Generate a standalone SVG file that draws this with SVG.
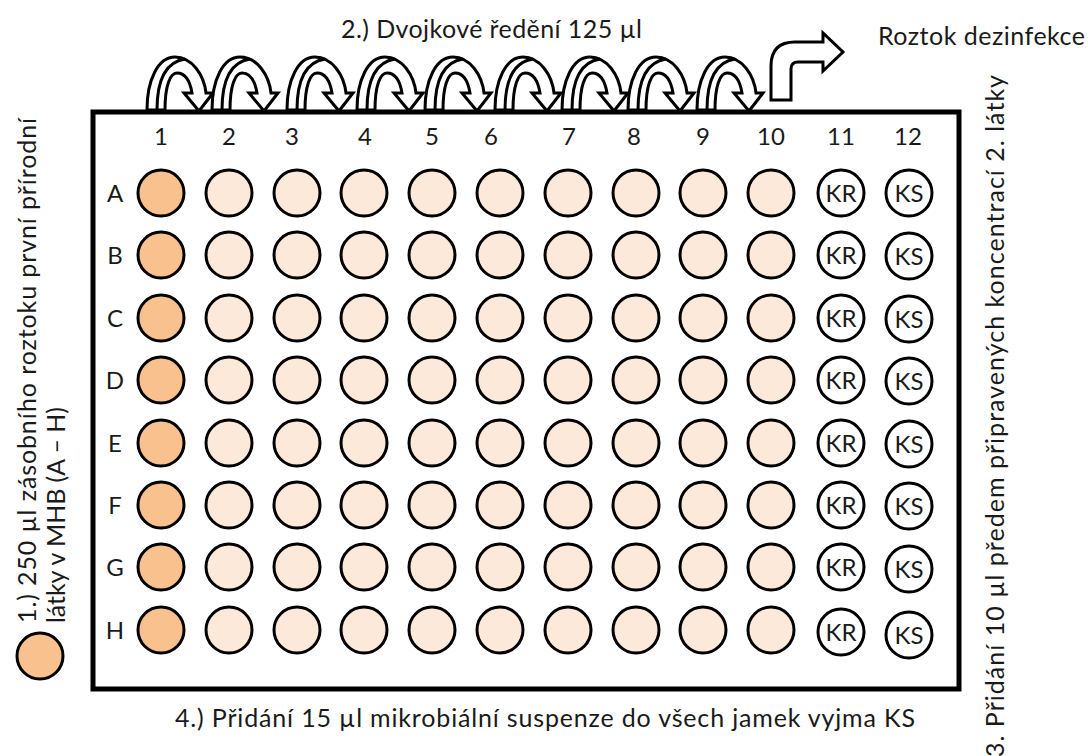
<svg xmlns="http://www.w3.org/2000/svg" xmlns:xlink="http://www.w3.org/1999/xlink" width="1088" height="756" viewBox="0 0 1088 756">
<style>
text{font-family:"Lato","Liberation Sans",sans-serif;fill:#1a1a1a}
.big{font-size:25px}
.lbl{font-size:24px;text-anchor:middle}
.kt{font-size:24px;text-anchor:middle}
.w1{fill:#F8C18E;stroke:#000;stroke-width:3}
.w{fill:#FDE9DA;stroke:#000;stroke-width:3}
.wk{fill:#fff;stroke:#000;stroke-width:3}
.arr{fill:#fff;stroke:#000;stroke-width:3;stroke-linejoin:miter}
.fold{fill:none;stroke:#000;stroke-width:3}
.plate{fill:#fff;stroke:#000;stroke-width:5}
</style>
<defs>
<g id="curved">
<path class="arr" d="M0,110 C0,80 11,57 28,57 C45,57 57,75 59,93 L66,93 L52,111 L37,93 L45,93 C43,81 38,73 30,73 C23,73 18,86 18,110 Z"/>
<path class="fold" d="M10,110 C10,82 18,62 38,59"/>
</g>
</defs>
<rect width="1088" height="756" fill="#fff"/>
<g id="plate"><rect class="plate" x="93" y="112" width="866" height="577"/></g>
<g id="connectors">
<use xlink:href="#curved" x="147" y="0"/>
<use xlink:href="#curved" x="212" y="0"/>
<use xlink:href="#curved" x="287" y="0"/>
<use xlink:href="#curved" x="357" y="0"/>
<use xlink:href="#curved" x="425" y="0"/>
<use xlink:href="#curved" x="495" y="0"/>
<use xlink:href="#curved" x="562" y="0"/>
<use xlink:href="#curved" x="628" y="0"/>
<use xlink:href="#curved" x="697" y="0"/>
<path class="arr" d="M771,100 L771,66 Q771,42 795,42 L823,42 L823,33 L843,52 L823,71 L823,62 L798,62 Q791,62 791,69 L791,100 Z"/>
</g>
<g id="titles">
<text class="big" x="341" y="38" textLength="301">2.) Dvojkové ředění 125 µl</text>
<text class="big" x="878" y="45" textLength="207">Roztok dezinfekce</text>
<text class="big" x="175" y="727" textLength="740">4.) Přidání 15 µl mikrobiální suspenze do všech jamek vyjma KS</text>
<text class="big" transform="translate(1004,757) rotate(-90)" textLength="682">3. Přidání 10 µl předem připravených koncentrací 2. látky</text>
</g>
<g id="legend">
<circle class="w1" cx="40" cy="656" r="23"/>
<text class="big" transform="translate(36,623) rotate(-90)" textLength="505">1.) 250 µl zásobního roztoku první přírodní</text>
<text class="big" transform="translate(65,623) rotate(-90)" textLength="216">látky v MHB (A – H)</text>
</g>
<g id="col-labels">
<text class="lbl" x="161" y="145">1</text>
<text class="lbl" x="229" y="145">2</text>
<text class="lbl" x="292" y="145">3</text>
<text class="lbl" x="365" y="145">4</text>
<text class="lbl" x="432" y="145">5</text>
<text class="lbl" x="491" y="145">6</text>
<text class="lbl" x="569" y="145">7</text>
<text class="lbl" x="634" y="145">8</text>
<text class="lbl" x="703" y="145">9</text>
<text class="lbl" x="771" y="145">10</text>
<text class="lbl" x="841" y="145">11</text>
<text class="lbl" x="908" y="145">12</text>
</g>
<g id="row-labels">
<text class="lbl" x="115" y="202">A</text>
<text class="lbl" x="115" y="264">B</text>
<text class="lbl" x="115" y="327">C</text>
<text class="lbl" x="115" y="389">D</text>
<text class="lbl" x="115" y="452">E</text>
<text class="lbl" x="115" y="514">F</text>
<text class="lbl" x="115" y="576">G</text>
<text class="lbl" x="115" y="639">H</text>
</g>
<g id="row-A">
<g id="A1"><circle class="w1" cx="161" cy="193" r="23"/></g>
<g id="A2"><circle class="w" cx="229" cy="193" r="23"/></g>
<g id="A3"><circle class="w" cx="297" cy="193" r="23"/></g>
<g id="A4"><circle class="w" cx="364" cy="193" r="23"/></g>
<g id="A5"><circle class="w" cx="432" cy="193" r="23"/></g>
<g id="A6"><circle class="w" cx="500" cy="193" r="23"/></g>
<g id="A7"><circle class="w" cx="568" cy="193" r="23"/></g>
<g id="A8"><circle class="w" cx="636" cy="193" r="23"/></g>
<g id="A9"><circle class="w" cx="703" cy="193" r="23"/></g>
<g id="A10"><circle class="w" cx="771" cy="193" r="23"/></g>
<g id="A11"><circle class="wk" cx="841" cy="193" r="23"/><text class="kt" x="841" y="202">KR</text></g>
<g id="A12"><circle class="wk" cx="909" cy="193" r="23"/><text class="kt" x="909" y="202">KS</text></g>
</g>
<g id="row-B">
<g id="B1"><circle class="w1" cx="161" cy="255" r="23"/></g>
<g id="B2"><circle class="w" cx="229" cy="255" r="23"/></g>
<g id="B3"><circle class="w" cx="297" cy="255" r="23"/></g>
<g id="B4"><circle class="w" cx="364" cy="255" r="23"/></g>
<g id="B5"><circle class="w" cx="432" cy="255" r="23"/></g>
<g id="B6"><circle class="w" cx="500" cy="255" r="23"/></g>
<g id="B7"><circle class="w" cx="568" cy="255" r="23"/></g>
<g id="B8"><circle class="w" cx="636" cy="255" r="23"/></g>
<g id="B9"><circle class="w" cx="703" cy="255" r="23"/></g>
<g id="B10"><circle class="w" cx="771" cy="255" r="23"/></g>
<g id="B11"><circle class="wk" cx="841" cy="255" r="23"/><text class="kt" x="841" y="264">KR</text></g>
<g id="B12"><circle class="wk" cx="909" cy="256" r="23"/><text class="kt" x="909" y="265">KS</text></g>
</g>
<g id="row-C">
<g id="C1"><circle class="w1" cx="161" cy="318" r="23"/></g>
<g id="C2"><circle class="w" cx="229" cy="318" r="23"/></g>
<g id="C3"><circle class="w" cx="297" cy="318" r="23"/></g>
<g id="C4"><circle class="w" cx="364" cy="318" r="23"/></g>
<g id="C5"><circle class="w" cx="432" cy="318" r="23"/></g>
<g id="C6"><circle class="w" cx="500" cy="318" r="23"/></g>
<g id="C7"><circle class="w" cx="568" cy="318" r="23"/></g>
<g id="C8"><circle class="w" cx="636" cy="318" r="23"/></g>
<g id="C9"><circle class="w" cx="703" cy="318" r="23"/></g>
<g id="C10"><circle class="w" cx="771" cy="318" r="23"/></g>
<g id="C11"><circle class="wk" cx="841" cy="318" r="23"/><text class="kt" x="841" y="327">KR</text></g>
<g id="C12"><circle class="wk" cx="909" cy="319" r="23"/><text class="kt" x="909" y="328">KS</text></g>
</g>
<g id="row-D">
<g id="D1"><circle class="w1" cx="161" cy="380" r="23"/></g>
<g id="D2"><circle class="w" cx="229" cy="380" r="23"/></g>
<g id="D3"><circle class="w" cx="297" cy="380" r="23"/></g>
<g id="D4"><circle class="w" cx="364" cy="380" r="23"/></g>
<g id="D5"><circle class="w" cx="432" cy="380" r="23"/></g>
<g id="D6"><circle class="w" cx="500" cy="380" r="23"/></g>
<g id="D7"><circle class="w" cx="568" cy="380" r="23"/></g>
<g id="D8"><circle class="w" cx="636" cy="380" r="23"/></g>
<g id="D9"><circle class="w" cx="703" cy="380" r="23"/></g>
<g id="D10"><circle class="w" cx="771" cy="380" r="23"/></g>
<g id="D11"><circle class="wk" cx="841" cy="380" r="23"/><text class="kt" x="841" y="389">KR</text></g>
<g id="D12"><circle class="wk" cx="909" cy="381" r="23"/><text class="kt" x="909" y="390">KS</text></g>
</g>
<g id="row-E">
<g id="E1"><circle class="w1" cx="161" cy="443" r="23"/></g>
<g id="E2"><circle class="w" cx="229" cy="443" r="23"/></g>
<g id="E3"><circle class="w" cx="297" cy="443" r="23"/></g>
<g id="E4"><circle class="w" cx="364" cy="443" r="23"/></g>
<g id="E5"><circle class="w" cx="432" cy="443" r="23"/></g>
<g id="E6"><circle class="w" cx="500" cy="443" r="23"/></g>
<g id="E7"><circle class="w" cx="568" cy="443" r="23"/></g>
<g id="E8"><circle class="w" cx="636" cy="443" r="23"/></g>
<g id="E9"><circle class="w" cx="703" cy="443" r="23"/></g>
<g id="E10"><circle class="w" cx="771" cy="443" r="23"/></g>
<g id="E11"><circle class="wk" cx="841" cy="443" r="23"/><text class="kt" x="841" y="452">KR</text></g>
<g id="E12"><circle class="wk" cx="909" cy="444" r="23"/><text class="kt" x="909" y="453">KS</text></g>
</g>
<g id="row-F">
<g id="F1"><circle class="w1" cx="161" cy="505" r="23"/></g>
<g id="F2"><circle class="w" cx="229" cy="505" r="23"/></g>
<g id="F3"><circle class="w" cx="297" cy="505" r="23"/></g>
<g id="F4"><circle class="w" cx="364" cy="505" r="23"/></g>
<g id="F5"><circle class="w" cx="432" cy="505" r="23"/></g>
<g id="F6"><circle class="w" cx="500" cy="505" r="23"/></g>
<g id="F7"><circle class="w" cx="568" cy="505" r="23"/></g>
<g id="F8"><circle class="w" cx="636" cy="505" r="23"/></g>
<g id="F9"><circle class="w" cx="703" cy="505" r="23"/></g>
<g id="F10"><circle class="w" cx="771" cy="505" r="23"/></g>
<g id="F11"><circle class="wk" cx="841" cy="505" r="23"/><text class="kt" x="841" y="514">KR</text></g>
<g id="F12"><circle class="wk" cx="909" cy="506" r="23"/><text class="kt" x="909" y="515">KS</text></g>
</g>
<g id="row-G">
<g id="G1"><circle class="w1" cx="161" cy="567" r="23"/></g>
<g id="G2"><circle class="w" cx="229" cy="567" r="23"/></g>
<g id="G3"><circle class="w" cx="297" cy="567" r="23"/></g>
<g id="G4"><circle class="w" cx="364" cy="567" r="23"/></g>
<g id="G5"><circle class="w" cx="432" cy="567" r="23"/></g>
<g id="G6"><circle class="w" cx="500" cy="567" r="23"/></g>
<g id="G7"><circle class="w" cx="568" cy="567" r="23"/></g>
<g id="G8"><circle class="w" cx="636" cy="567" r="23"/></g>
<g id="G9"><circle class="w" cx="703" cy="567" r="23"/></g>
<g id="G10"><circle class="w" cx="771" cy="567" r="23"/></g>
<g id="G11"><circle class="wk" cx="841" cy="567" r="23"/><text class="kt" x="841" y="576">KR</text></g>
<g id="G12"><circle class="wk" cx="909" cy="569" r="23"/><text class="kt" x="909" y="578">KS</text></g>
</g>
<g id="row-H">
<g id="H1"><circle class="w1" cx="161" cy="630" r="23"/></g>
<g id="H2"><circle class="w" cx="229" cy="630" r="23"/></g>
<g id="H3"><circle class="w" cx="297" cy="630" r="23"/></g>
<g id="H4"><circle class="w" cx="364" cy="630" r="23"/></g>
<g id="H5"><circle class="w" cx="432" cy="630" r="23"/></g>
<g id="H6"><circle class="w" cx="500" cy="630" r="23"/></g>
<g id="H7"><circle class="w" cx="568" cy="630" r="23"/></g>
<g id="H8"><circle class="w" cx="636" cy="630" r="23"/></g>
<g id="H9"><circle class="w" cx="703" cy="630" r="23"/></g>
<g id="H10"><circle class="w" cx="771" cy="630" r="23"/></g>
<g id="H11"><circle class="wk" cx="841" cy="632" r="23"/><text class="kt" x="841" y="641">KR</text></g>
<g id="H12"><circle class="wk" cx="909" cy="635" r="23"/><text class="kt" x="909" y="644">KS</text></g>
</g>
</svg>
